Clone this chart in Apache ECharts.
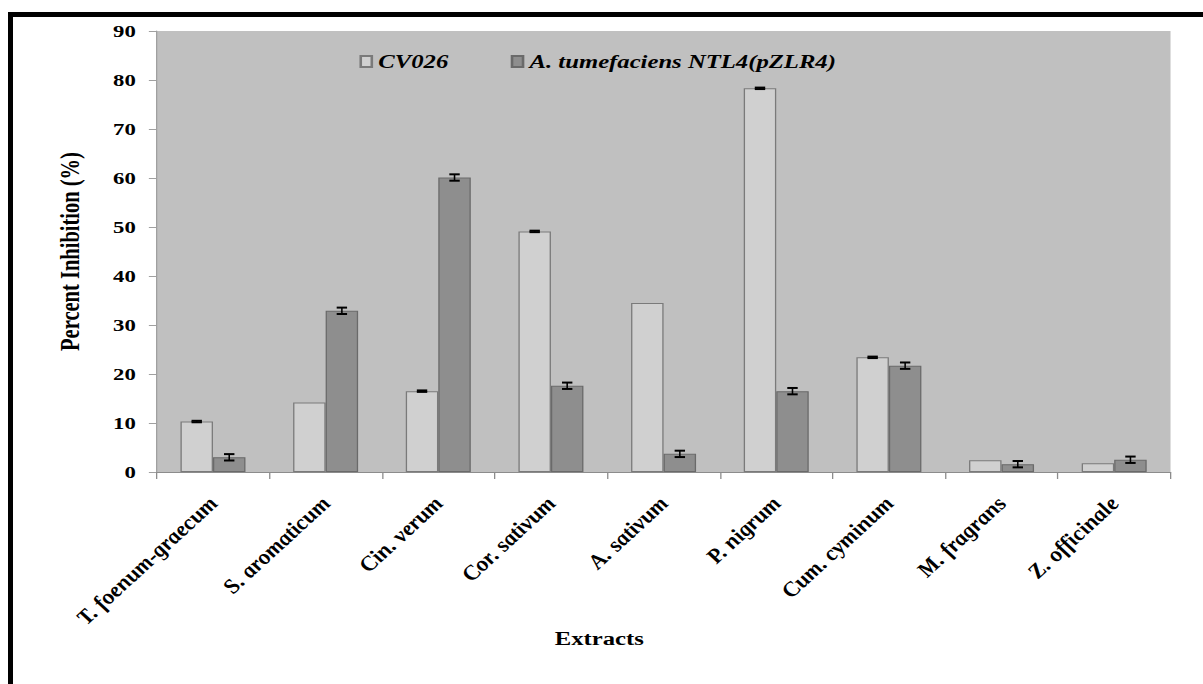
<!DOCTYPE html>
<html><head><meta charset="utf-8">
<script src="https://cdn.jsdelivr.net/npm/echarts@6/dist/echarts.min.js"></script>
<style>
html,body{margin:0;padding:0;background:#fff;width:1203px;height:684px;overflow:hidden;}
#frame{position:absolute;left:8px;top:12px;width:1300px;height:800px;border-left:5px solid #000;border-top:5px solid #000;box-sizing:border-box;}
#chart{position:absolute;left:0;top:0;width:925.4px;height:684px;transform-origin:0 0;transform:scaleX(1.3);}
</style></head><body>
<div id="frame"></div>
<div id="chart"></div>
<script>
const categories = ['T. foenum-graecum', 'S. aromaticum', 'Cin. verum', 'Cor. sativum', 'A. sativum', 'P. nigrum', 'Cum. cyminum', 'M. fragrans', 'Z. officinale'];
const cv026 = [10.3, 14.2, 16.5, 49.1, 34.5, 78.3, 23.4, 2.4, 1.8];
const cv026Err = [0.15, 0, 0.15, 0.15, 0, 0.15, 0.15, 0, 0];
const ntl4 = [3.0, 32.9, 60.1, 17.6, 3.7, 16.5, 21.7, 1.6, 2.5];
const ntl4Err = [0.65, 0.65, 0.65, 0.65, 0.65, 0.65, 0.65, 0.65, 0.65];
const yMin = 0, yMax = 90, yStep = 10;

const FONT = '"Liberation Serif", "Times New Roman", serif';
const BAR_W = 25;

function errSeries(name, vals, errs, sign) {
  const data = [];
  vals.forEach((v, i) => { if (errs[i] > 0) data.push([i, v, errs[i]]); });
  return {
    type: 'custom', name: name, z: 10, silent: true,
    encode: { x: 0, y: 1 },
    data: data,
    renderItem: function (params, api) {
      const i = api.value(0), v = api.value(1), e = api.value(2);
      const t = api.coord([i, v + e]);
      const b = api.coord([i, v - e]);
      const x = t[0] + sign * BAR_W / 2;
      const hw = 4;
      const st = { stroke: '#000', lineWidth: 2 };
      return {
        type: 'group', children: [
          { type: 'line', shape: { x1: x, y1: t[1], x2: x, y2: b[1] }, style: { stroke: '#000', lineWidth: 1.2 } },
          { type: 'line', shape: { x1: x - hw, y1: t[1], x2: x + hw, y2: t[1] }, style: st },
          { type: 'line', shape: { x1: x - hw, y1: b[1], x2: x + hw, y2: b[1] }, style: st }
        ]
      };
    }
  };
}

const chart = echarts.init(document.getElementById('chart'), null, { renderer: 'svg' });
chart.setOption({
  animation: false,
  backgroundColor: 'transparent',
  title: {
    text: 'Extracts', left: 456, top: 624, textAlign: 'center',
    textStyle: { fontFamily: FONT, fontSize: 19, fontWeight: 'bold', color: '#000' }
  },
  legend: {
    left: 271.5, top: 47, itemGap: 48, itemWidth: 8.5, itemHeight: 11,
    icon: 'rect',
    data: ['CV026', 'A. tumefaciens NTL4(pZLR4)'],
    textStyle: { fontFamily: FONT, fontSize: 19, fontWeight: 'bold', fontStyle: 'italic', color: '#000' }
  },
  grid: { left: 120.5, right: 24.6, top: 31, bottom: 212, show: true, backgroundColor: '#C0C0C0', borderWidth: 0 },
  xAxis: {
    type: 'category', data: categories,
    axisLine: { lineStyle: { color: '#8c8c8c', width: 1 } },
    axisTick: { show: true, length: 7, lineStyle: { color: '#8c8c8c' } },
    axisLabel: {
      interval: 0, rotate: 50, margin: 28, color: '#000',
      fontFamily: FONT, fontSize: 19.5, fontWeight: 'bold', fontStyle: 'italic'
    },
    splitLine: { show: false }
  },
  yAxis: {
    type: 'value', min: yMin, max: yMax, interval: yStep,
    name: 'Percent Inhibition (%)', nameLocation: 'middle', nameGap: 56,
    nameTextStyle: { fontFamily: FONT, fontSize: 20.5, fontWeight: 'bold', color: '#000' },
    axisLine: { show: true, lineStyle: { color: '#a0a0a0', width: 1 } },
    axisTick: { show: true, length: 6, lineStyle: { color: '#a0a0a0' } },
    axisLabel: { margin: 16, color: '#000', fontFamily: FONT, fontSize: 17.5, fontWeight: 'bold' },
    splitLine: { show: false }
  },
  series: [
    {
      name: 'CV026', type: 'bar', data: cv026, barWidth: BAR_W, barGap: '0%',
      itemStyle: { color: '#D0D0D0', borderColor: '#7a7a7a', borderWidth: 1 }
    },
    {
      name: 'A. tumefaciens NTL4(pZLR4)', type: 'bar', data: ntl4, barWidth: BAR_W, barGap: '0%',
      itemStyle: { color: '#8E8E8E', borderColor: '#6a6a6a', borderWidth: 1 }
    },
    errSeries('CV026 error', cv026, cv026Err, -1),
    errSeries('NTL4 error', ntl4, ntl4Err, 1)
  ]
});
</script>
</body></html>
